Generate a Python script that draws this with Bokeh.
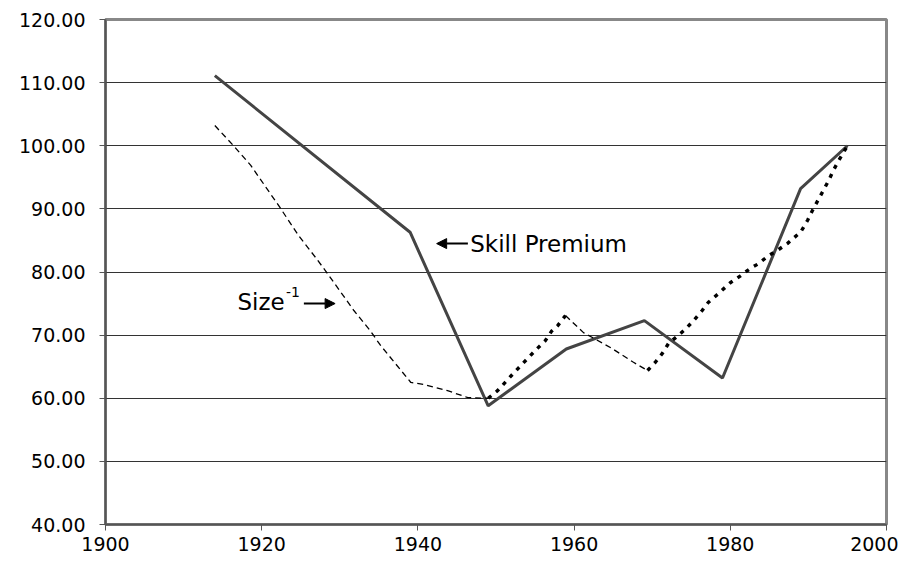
from bokeh.plotting import figure
from bokeh.models import FixedTicker, NumeralTickFormatter, Label, Arrow, NormalHead
from bokeh.embed import file_html
from bokeh.resources import INLINE

# ---- data ----
skill_years = [1914, 1939, 1949, 1959, 1969, 1979, 1989, 1995]
skill_values = [111.1, 86.3, 58.8, 67.8, 72.3, 63.2, 93.2, 100.0]

size_years = [1914.0, 1916.4, 1918.6, 1922.4, 1924.7, 1926.9, 1928.4, 1931.8, 1933.9, 1935.2,
              1939.1, 1940.7, 1943.8, 1946.4, 1949.0,
              1950.2, 1952.2, 1954.2, 1955.3, 1956.3, 1957.1, 1957.9, 1958.9,
              1961.2, 1964.7, 1967.6, 1969.4,
              1970.4, 1971.3, 1972.1, 1973.2, 1974.3, 1975.3, 1976.4, 1977.2, 1978.5, 1980.0,
              1981.3, 1982.6, 1983.6, 1984.9, 1986.0, 1987.3, 1988.6, 1989.0, 1989.9, 1990.5,
              1991.2, 1991.9, 1992.6, 1993.2, 1993.9, 1995.0]
size_values = [103.2, 100.0, 96.9, 90.1, 85.8, 82.3, 79.8, 73.9, 70.7, 68.4,
               62.5, 62.2, 61.2, 60.1, 60.0,
               61.2, 63.9, 66.5, 67.9, 69.1, 70.6, 71.5, 73.1,
               70.4, 68.0, 65.7, 64.4,
               65.7, 67.1, 68.7, 69.8, 71.0, 72.3, 73.9, 75.2, 76.6, 78.3,
               79.4, 80.6, 81.3, 82.6, 83.4, 84.5, 85.9, 86.3, 88.2, 89.7,
               91.3, 92.9, 94.5, 96.1, 97.7, 100.0]

x_ticks = [1900, 1920, 1940, 1960, 1980, 2000]
y_ticks = [40, 50, 60, 70, 80, 90, 100, 110, 120]

FONT = "DejaVu Sans"

p = figure(width=898, height=555, x_range=(1900, 2000), y_range=(40, 120),
           output_backend="svg", toolbar_location=None,
           min_border_left=105, min_border_right=12, min_border_top=19, min_border_bottom=31)

p.background_fill_color = "white"
p.border_fill_color = "white"
p.outline_line_color = "#888888"
p.outline_line_width = 3

p.xgrid.grid_line_color = None
p.ygrid.grid_line_color = "#333333"
p.ygrid.grid_line_width = 1
p.ygrid.ticker = FixedTicker(ticks=y_ticks)

p.xaxis.ticker = FixedTicker(ticks=x_ticks)
p.yaxis.ticker = FixedTicker(ticks=y_ticks)
p.yaxis.formatter = NumeralTickFormatter(format="0.00")
for ax in (p.xaxis, p.yaxis):
    ax.axis_line_color = "#555555"
    ax.axis_line_width = 2
    ax.major_tick_line_color = "#555555"
    ax.major_tick_line_width = 1
    ax.major_tick_out = 6
    ax.major_tick_in = 0
    ax.minor_tick_line_color = None
    ax.major_label_text_font = FONT
    ax.major_label_text_font_size = "19px"
    ax.major_label_text_color = "black"
p.yaxis.major_label_standoff = 14
p.xaxis.major_label_standoff = 6

# skill premium (solid)
p.line(skill_years, skill_values, line_color="#444444", line_width=3)

# size^-1: thin dashed and thick dotted parts
def seg(y0, y1):
    xs, ys = [], []
    for x, y in zip(size_years, size_values):
        if y0 <= x <= y1:
            xs.append(x)
            ys.append(y)
    return xs, ys

for (a, b, style) in [(1900, 1949.0, "thin"), (1949.0, 1958.9, "thick"),
                      (1958.9, 1969.4, "thin"), (1969.4, 2000, "thick")]:
    xs, ys = seg(a, b)
    if style == "thin":
        p.line(xs, ys, line_color="black", line_width=1.3, line_dash="6 4")
    else:
        p.line(xs, ys, line_color="black", line_width=3.4, line_dash="4 6")

# annotations
p.add_layout(Label(x=1946.7, y=84.5, text="Skill Premium", text_font=FONT,
                   text_font_size="23px", text_baseline="middle", text_align="left",
                   text_color="black"))
p.add_layout(Arrow(end=NormalHead(size=10, fill_color="black", line_color="black"),
                   x_start=1946.4, y_start=84.5, x_end=1942.4, y_end=84.5,
                   line_color="black", line_width=2))

p.add_layout(Label(x=1916.9, y=75.2, text="Size", text_font=FONT,
                   text_font_size="23px", text_baseline="middle", text_align="left",
                   text_color="black"))
p.add_layout(Label(x=1923.1, y=76.9, text="-1", text_font=FONT,
                   text_font_size="14px", text_baseline="middle", text_align="left",
                   text_color="black"))
p.add_layout(Arrow(end=NormalHead(size=10, fill_color="black", line_color="black"),
                   x_start=1925.4, y_start=75.0, x_end=1929.4, y_end=75.0,
                   line_color="black", line_width=2))

open("out.html", "w").write(file_html(p, INLINE))
